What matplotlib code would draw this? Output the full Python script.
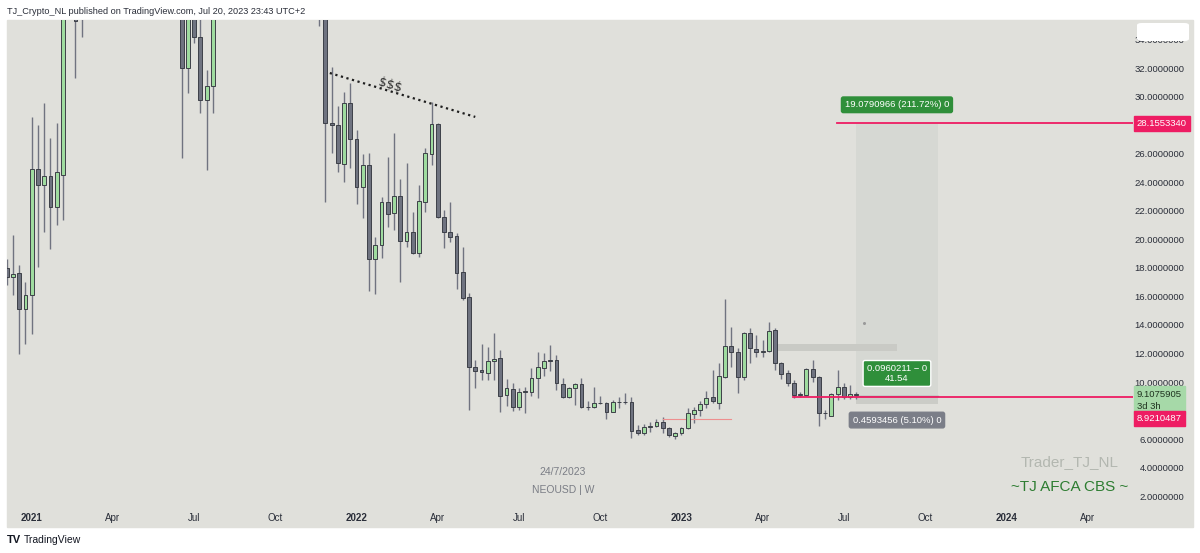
import matplotlib
matplotlib.use('Agg')
import matplotlib.pyplot as plt
import matplotlib.dates as mdates
import matplotlib.transforms as mtransforms
from matplotlib.patches import Rectangle, FancyBboxPatch
import pandas as pd

# NEOUSD weekly candles, first bar = week of 2020-12-07
start_week = '2020-12-07'
opens = [18.0, 17.35, 17.65, 15.1, 16.1, 24.95, 23.8, 24.45, 22.3, 24.5,
         42.0, 48.0, 35.6, 40.0, 38.0, 37.0, 38.0, 58.0, 78.0, 110.0,
         95.0, 115.0, 110.0, 90.0, 55.0, 50.0, 48.0, 45.0, 42.0, 32.0,
         36.5, 34.2, 29.8, 30.8, 40.0, 42.0, 52.0, 58.0, 55.0, 62.0,
         48.0, 50.0, 43.0, 46.0, 48.0, 47.0, 44.0, 46.0, 50.0, 48.0,
         42.0, 38.0, 28.2, 28.05, 25.3, 29.6, 27.05, 23.7, 25.25, 18.6,
         19.6, 22.6, 21.85, 23.05, 19.9, 20.5, 19.05, 22.6, 26.0, 28.1,
         21.6, 20.5, 20.25, 17.7, 15.96, 11.05, 10.85, 10.61, 11.47, 11.66,
         9.09, 9.49, 8.27, 9.28, 9.32, 10.30, 11.0, 11.55, 11.54, 9.86,
         8.93, 9.56, 9.84, 8.22, 8.27, 8.55, 8.55, 7.92, 8.58, 8.59,
         8.58, 6.63, 6.44, 6.86, 6.9, 7.21, 6.75, 6.23, 6.40, 6.75,
         7.77, 8.04, 8.46, 8.93, 8.55, 10.37, 12.53, 12.1, 10.37, 13.42,
         12.32, 12.1, 12.2, 13.65, 11.31, 10.65, 9.95, 9.09, 9.09, 10.89,
         10.37, 7.80, 7.64, 9.14, 9.67, 8.93, 9.14]
highs = [18.6, 20.3, 18.2, 17.0, 28.6, 28.0, 29.6, 27.1, 28.2, 45.0,
         56.0, 50.0, 42.0, 44.0, 42.0, 40.0, 60.0, 80.0, 125.0, 120.0,
         125.0, 140.0, 120.0, 95.0, 60.0, 58.0, 52.0, 50.0, 44.0, 38.0,
         38.0, 36.0, 31.9, 42.0, 44.0, 55.0, 62.0, 64.0, 68.0, 65.0,
         55.0, 52.0, 48.0, 50.0, 52.0, 50.0, 48.0, 55.0, 56.0, 50.0,
         46.0, 40.0, 32.1, 29.4, 30.35, 31.0, 27.7, 26.0, 26.1, 20.2,
         23.0, 25.8, 27.5, 24.25, 25.4, 21.9, 23.8, 26.4, 29.65, 28.15,
         22.1, 22.6, 20.45, 19.5, 16.25, 11.54, 12.67, 12.43, 13.46, 12.25,
         10.19, 9.91, 9.56, 9.63, 10.96, 12.13, 12.06, 12.6, 11.89, 10.30,
         9.63, 9.95, 10.26, 8.69, 9.67, 9.04, 8.62, 8.74, 8.97, 9.2,
         8.93, 6.98, 7.05, 7.21, 7.38, 7.52, 6.86, 6.51, 6.86, 8.15,
         8.27, 8.67, 9.37, 10.84, 11.31, 15.80, 13.88, 12.36, 13.53, 13.77,
         13.3, 12.95, 14.23, 13.77, 11.42, 10.84, 10.14, 9.28, 10.96, 11.54,
         10.44, 8.04, 9.21, 10.84, 9.91, 9.79, 9.32]
lows = [16.8, 16.1, 12.0, 12.7, 13.4, 18.1, 20.5, 19.3, 21.0, 21.4,
        38.0, 31.3, 34.2, 37.0, 36.0, 36.0, 37.0, 55.0, 75.0, 70.0,
        90.0, 100.0, 75.0, 40.0, 42.0, 45.0, 40.0, 40.0, 25.7, 30.3,
        33.8, 28.9, 24.9, 28.9, 37.0, 41.0, 48.0, 52.0, 53.0, 42.0,
        46.0, 40.0, 39.0, 44.0, 45.0, 42.0, 40.0, 44.0, 46.0, 39.0,
        35.0, 22.6, 26.1, 24.7, 24.0, 25.0, 22.5, 21.5, 16.4, 16.2,
        18.7, 20.9, 20.7, 17.0, 19.5, 19.0, 18.8, 21.9, 25.2, 21.5,
        19.4, 19.8, 16.5, 15.75, 8.04, 9.58, 10.14, 10.14, 10.14, 7.92,
        8.32, 7.99, 8.04, 7.85, 9.04, 8.86, 10.42, 10.79, 9.44, 8.86,
        8.86, 8.39, 8.15, 8.04, 8.15, 8.46, 7.40, 7.87, 8.20, 8.46,
        6.05, 6.28, 6.28, 6.51, 6.82, 6.44, 6.16, 5.98, 6.28, 6.70,
        7.14, 7.64, 8.2, 8.55, 8.1, 10.3, 11.03, 9.21, 10.14, 11.3,
        11.73, 11.78, 12.1, 10.84, 10.19, 9.72, 8.86, 8.97, 9.05, 10.02,
        6.91, 7.38, 7.6, 8.74, 8.81, 8.79, 8.81]
closes = [17.35, 17.6, 15.1, 16.1, 24.95, 23.8, 24.45, 22.3, 24.7, 42.0,
          48.0, 35.3, 40.0, 38.0, 37.0, 38.0, 58.0, 78.0, 110.0, 95.0,
          115.0, 110.0, 90.0, 55.0, 50.0, 48.0, 45.0, 42.0, 32.0, 36.0,
          34.2, 29.8, 30.8, 40.0, 42.0, 52.0, 58.0, 55.0, 62.0, 48.0,
          50.0, 43.0, 46.0, 48.0, 47.0, 44.0, 46.0, 50.0, 48.0, 42.0,
          38.0, 28.2, 28.05, 25.4, 29.6, 27.05, 23.7, 25.2, 18.6, 19.6,
          22.6, 21.8, 23.05, 19.9, 20.5, 19.05, 22.7, 26.1, 28.1, 21.6,
          20.5, 20.2, 17.65, 15.9, 11.05, 10.8, 10.68, 11.47, 11.61, 9.04,
          9.56, 8.27, 9.28, 9.37, 10.30, 11.03, 11.49, 11.47, 9.91, 8.93,
          9.56, 9.84, 8.22, 8.26, 8.55, 8.56, 7.87, 8.58, 8.59, 8.58,
          6.58, 6.44, 6.86, 6.93, 7.21, 6.75, 6.28, 6.40, 6.75, 7.80,
          8.04, 8.46, 8.86, 8.67, 10.42, 12.53, 12.08, 10.37, 13.42, 12.37,
          12.08, 12.2, 13.6, 11.31, 10.54, 9.91, 9.09, 9.16, 10.89, 10.37,
          7.80, 7.85, 9.14, 9.67, 8.93, 9.14, 9.1075905]

price_ticks = [2, 4, 6, 10, 12, 14, 16, 18, 20, 22, 24, 26, 30, 32, 34]
time_ticks = ['2021-01-04', '2021-04-05', '2021-07-05', '2021-10-04',
              '2022-01-03', '2022-04-04', '2022-07-04', '2022-10-03',
              '2023-01-02', '2023-04-03', '2023-07-03', '2023-10-02',
              '2024-01-01', '2024-04-01']
time_labels = ['2021', 'Apr', 'Jul', 'Oct', '2022', 'Apr', 'Jul', 'Oct',
               '2023', 'Apr', 'Jul', 'Oct', '2024', 'Apr']

# drawings on the chart
target = 28.1553340
entry = 8.9210487
stop_dist = 0.4593456
last_price = 9.1075905
tool_start, tool_end = '2023-07-17', '2023-10-16'
target_ray_start = '2023-06-25'
entry_ray_start = '2023-05-07'
band_start, band_end, band_lo, band_hi = '2023-04-19', '2023-09-01', 12.2, 12.7
red_line_start, red_line_end, red_line_y = '2022-12-12', '2023-02-26', 7.38
trend_dates, trend_vals = ['2021-12-04', '2022-05-16'], [31.68, 28.6]

BG = '#e0e0db'
UP = '#9fdb9f'
DOWN = '#6f7380'
EDGE = '#3d4048'
WICK = '#707380'
PINK = '#ee1d63'
GREEN_LBL = '#2f8f3a'
FONT = ['Liberation Sans Narrow', 'Liberation Sans', 'DejaVu Sans']
plt.rcParams['font.family'] = FONT


def dn(s):
    return mdates.date2num(pd.Timestamp(s))


fig = plt.figure(figsize=(12, 5.53), dpi=100)
W, H = 1200, 553
fig.patches.append(Rectangle((7 / W, 1 - 527 / H), 1186 / W, 507 / H,
                             transform=fig.transFigure, color=BG, zorder=-1))
ax = fig.add_axes([7 / W, 1 - 506 / H, 1126 / W, 486 / H])
ax.set_facecolor(BG)
for s in ax.spines.values():
    s.set_visible(False)

dates = pd.date_range(start_week, periods=len(opens), freq='7D')
xs = mdates.date2num(dates)
o = pd.Series(opens)
c = pd.Series(closes)
cols = [UP if cc >= oo else DOWN for oo, cc in zip(opens, closes)]
ax.vlines(xs, lows, highs, color=WICK, lw=1.0, zorder=2)
ax.bar(xs, (c - o).abs(), bottom=pd.concat([o, c], axis=1).min(axis=1),
       width=4.3, color=cols, edgecolor=EDGE, linewidth=0.7, zorder=3)

x0 = dn('2021-01-04')
ax.set_xlim(x0 - 27.7, x0 + 1234.0)
ax.set_ylim(1.3, 35.4)

# trend line and $$$
ax.plot([dn(d) for d in trend_dates], trend_vals, color='#1e1e1e', lw=1.6,
        ls=(0, (1, 1.6)), zorder=4)
ax.text(dn('2022-02-09'), 30.8, '$$$', fontsize=9, color='#2a2a2a',
        family='DejaVu Sans', rotation=-17, ha='center', va='center', zorder=4)

# gray band and small red line
ax.add_patch(Rectangle((dn(band_start), band_lo), dn(band_end) - dn(band_start),
                       band_hi - band_lo, color='#c9cac5', lw=0, zorder=1.5))
ax.plot([dn(red_line_start), dn(red_line_end)], [red_line_y] * 2,
        color='#ee8f8f', lw=0.8, zorder=2)
ax.plot([dn('2023-07-26')], [14.12], marker='o', ms=1.2, color='#9a9a9a', zorder=2)

# long position tool
ts, te = dn(tool_start), dn(tool_end)
ax.add_patch(Rectangle((ts, entry), te - ts, target - entry, color='#d6d8d3',
                       lw=0, zorder=1))
ax.add_patch(Rectangle((ts, entry - stop_dist), te - ts, stop_dist,
                       color='#cbccc7', lw=0, zorder=1))
ax.plot([ts, te], [entry + 0.1] * 2, color='#8a8c90', lw=1.0, zorder=1.6)
ax.plot([dn(target_ray_start), ax.get_xlim()[1]], [target] * 2, color=PINK,
        lw=1.3, zorder=4)
ax.plot([dn(entry_ray_start), ax.get_xlim()[1]], [entry] * 2, color=PINK,
        lw=1.3, zorder=4)
mid = (ts + te) / 2
ax.text(mid, 29.45, '19.0790966 (211.72%) 0', fontsize=6.8, color='white',
        ha='center', va='center', zorder=6,
        bbox=dict(boxstyle='round,pad=0.35,rounding_size=0.2', fc=GREEN_LBL, ec=GREEN_LBL))
ax.text(mid, 10.6, '0.0960211 \u2212 0\n41.54', fontsize=6.8, color='white',
        ha='center', va='center', zorder=6, linespacing=1.05,
        bbox=dict(boxstyle='round,pad=0.4,rounding_size=0.2', fc=GREEN_LBL,
                  ec='white', lw=1.0))
ax.text(mid, 7.33, '0.4593456 (5.10%) 0', fontsize=6.8, color='white',
        ha='center', va='center', zorder=6,
        bbox=dict(boxstyle='round,pad=0.35,rounding_size=0.2', fc='#7b7e88', ec='#7b7e88'))

# price axis on the right
ax.yaxis.tick_right()
ax.set_yticks(price_ticks)
ax.set_yticklabels(['%.7f' % v for v in price_ticks])
ax.tick_params(axis='y', length=0, pad=37, labelsize=6.8, labelcolor='#2a2e39')
for lbl in ax.get_yticklabels():
    lbl.set_horizontalalignment('right')

ax.set_xticks([dn(d) for d in time_ticks])
ax.set_xticklabels(time_labels)
ax.tick_params(axis='x', length=0, pad=5, labelsize=7, labelcolor='#2a2e39')
for lbl in ax.get_xticklabels():
    if lbl.get_text().isdigit():
        lbl.set_fontweight('bold')

# price labels in the axis column
trans = mtransforms.blended_transform_factory(ax.transAxes, ax.transData)
ax.text(1.0035, target, '28.1553340', transform=trans, fontsize=6.8, color='white',
        ha='left', va='center', zorder=7, clip_on=False,
        bbox=dict(boxstyle='square,pad=0.3', fc=PINK, ec=PINK))
ax.text(1.0035, 8.72, '%.7f\n3d 3h' % last_price, transform=trans,
        fontsize=6.8, color='#1f3320', ha='left', va='center', zorder=7,
        clip_on=False, linespacing=1.45,
        bbox=dict(boxstyle='square,pad=0.35', fc='#a6d9a8', ec='#a6d9a8'))
ax.text(1.0035, 7.42, '8.9210487', transform=trans, fontsize=6.8,
        color='white', ha='left', va='center', zorder=8, clip_on=False,
        bbox=dict(boxstyle='square,pad=0.3', fc=PINK, ec=PINK))
fig.patches.append(FancyBboxPatch((1137 / W, 1 - 41 / H), 52 / W, 18 / H,
                                  boxstyle='round,pad=0,rounding_size=0.004',
                                  transform=fig.transFigure, fc='white', ec='none',
                                  zorder=5))

# watermarks
ax.text(0.4938, 0.07, '24/7/2023', transform=ax.transAxes, fontsize=7.5,
        color='#7a7d85', ha='center', va='center')
ax.text(0.4938, 0.033, 'NEOUSD | W', transform=ax.transAxes, fontsize=7.5,
        color='#7a7d85', ha='center', va='center')
ax.text(0.944, 0.0905, 'Trader_TJ_NL', transform=ax.transAxes, fontsize=11,
        color='#b3b7b0', ha='center', va='center')
ax.text(0.944, 0.0397, '~TJ AFCA CBS ~', transform=ax.transAxes, fontsize=11,
        color='#2e7d32', ha='center', va='center')

fig.text(7 / W, 1 - 11 / H, 'TJ_Crypto_NL published on TradingView.com, Jul 20, 2023 23:43 UTC+2',
         fontsize=6.6, color='#2a2e39', ha='left', va='center')
fig.text(7 / W, 1 - 540 / H, 'TV', fontsize=8, fontweight='bold', color='#131722',
         ha='left', va='center')
fig.text(24 / W, 1 - 540 / H, 'TradingView', fontsize=7.5, color='#131722',
         ha='left', va='center')

fig.savefig('out.png', dpi=100, facecolor='white')
